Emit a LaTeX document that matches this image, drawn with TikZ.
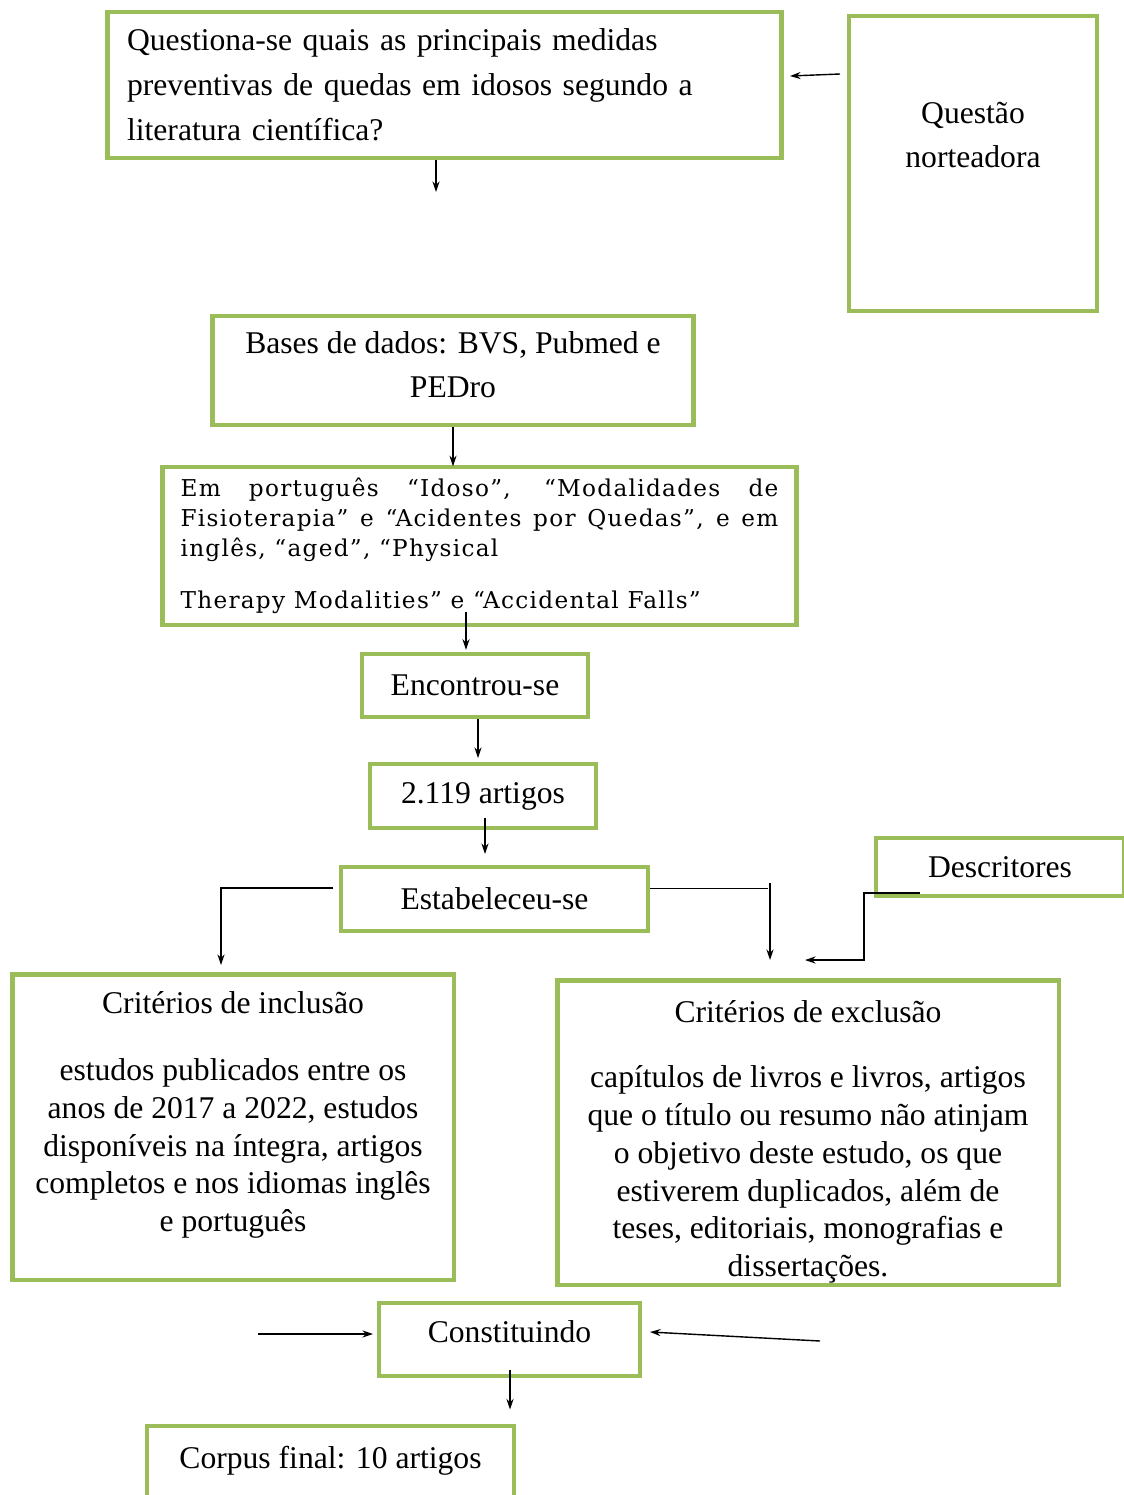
\documentclass[tikz,border=0pt]{standalone}
\usepackage{fontspec}
\setmainfont{Liberation Serif}
\newfontfamily\descfont[LetterSpace=5.5]{DejaVu Serif}
\usetikzlibrary{arrows.meta}
\definecolor{verde}{RGB}{155,189,89}
\tikzset{caixa/.style={draw=verde,line width=2.8pt,inner sep=0pt,font=\fontsize{18}{25.5}\selectfont},
  seta/.style={-{Stealth[length=6pt,width=4pt]},line width=0.8pt}}

\begin{document}
\begin{tikzpicture}[x=0.02cm,y=-0.02cm]
  \useasboundingbox (0,0) rectangle (1123,1495);
  \node[caixa,minimum width=13.5cm,minimum height=2.92cm,text width=12.7cm,align=left] (perg) at (444.5,85)
    {Questiona-se quais as principais medidas\\preventivas de quedas em idosos segundo a\\literatura científica?};
  \node[caixa,minimum width=4.96cm,minimum height=5.9cm,align=center,text depth=1.15cm] (quest) at (973,163.5)
    {Questão\\norteadora};
  \node[caixa,minimum width=9.64cm,minimum height=2.18cm,align=center,text depth=0.24cm] (bases) at (453,370.5)
    {Bases de dados: BVS, Pubmed e\\PEDro};
  \node[caixa,minimum width=12.7cm,minimum height=3.16cm,text width=11.96cm,align=justify,
    font=\descfont\fontsize{13.2}{17}\selectfont] (desc) at (479.5,546)
    {Em português “Idoso”, “Modalidades de\linebreak Fisioterapia” e “Acidentes por Quedas”, e em\linebreak inglês, “aged”, “Physical\par\vspace{0.45cm}Therapy Modalities” e “Accidental Falls”};
  \node[caixa,minimum width=4.52cm,minimum height=1.26cm] (enc) at (475,685.5) {Encontrou-se};
  \node[caixa,minimum width=4.52cm,minimum height=1.28cm] (art) at (483,796) {2.119 artigos};
  \node[caixa,minimum width=6.14cm,minimum height=1.28cm] (estab) at (494.5,899) {Estabeleceu-se};
  \node[caixa,minimum width=4.96cm,minimum height=1.16cm] (descr) at (1000,867) {Descritores};
  \node[caixa,minimum width=8.84cm,minimum height=6.12cm,align=center,text depth=0.61cm,font=\fontsize{18}{21.5}\selectfont] (incl) at (233,1127)
    {Critérios de inclusão\\[0.58cm]estudos publicados entre os\\anos de 2017 a 2022, estudos\\disponíveis na íntegra, artigos\\completos e nos idiomas inglês\\e português};
  \node[caixa,minimum width=10.04cm,minimum height=6.1cm,align=center,font=\fontsize{18}{21.5}\selectfont] (excl) at (808,1132.5)
    {\rule{0pt}{0.81cm}Critérios de exclusão\\[0.56cm]capítulos de livros e livros, artigos\\que o título ou resumo não atinjam\\o objetivo deste estudo, os que\\estiverem duplicados, além de\\teses, editoriais, monografias e\\dissertações.};
  \node[caixa,minimum width=5.22cm,minimum height=1.46cm,text depth=0.3cm] (const) at (509.5,1339.5) {Constituindo};
  \node[caixa,minimum width=7.34cm,minimum height=1.52cm,text depth=0.25cm] (corpus) at (330.5,1464) {Corpus final: 10 artigos};
  \coordinate (p1) at (436,192);
  \coordinate (q1) at (840,74);
  \coordinate (q2) at (790,76);
  \coordinate (d1) at (466,612);
  \coordinate (a1) at (485,818);
  \coordinate (i1) at (221,965);
  \coordinate (x1) at (768,888);
  \coordinate (x2) at (770,883);
  \coordinate (x3) at (770,960);
  \coordinate (r1) at (920,893);
  \coordinate (r2) at (805,960);
  \coordinate (c1) at (258,1334);
  \coordinate (c2) at (820,1341);
  \coordinate (c3) at (650,1332);
  \coordinate (k1) at (510,1370);
  \draw[seta] (perg.south -| p1) -- (p1);
  \draw[seta] (q1) -- (q2);
  \draw[seta] (bases.south) -- ([yshift=-1pt]bases.south |- desc.north);
  \draw[seta] (d1) -- ([yshift=1pt]enc.north -| d1);
  \draw[seta] (enc.south -| 478,0) -- ([yshift=2pt]art.north -| 478,0);
  \draw[seta] (a1) -- ([yshift=6pt]estab.north -| a1);
  \draw[seta] ([xshift=-3pt]estab.west |- 0,888) -| (i1);
  \draw (estab.east |- x1) -- (x1);
  \draw[seta] (x2) -- (x3);
  \draw[seta,line width=1.6pt] (r1) -| (r2 -| 864,0) -- (r2);
  \draw[seta] (c1) -- ([xshift=-2pt]c1 -| const.west);
  \draw[seta] (c2) -- (c3);
  \draw[seta] (k1) -- ([yshift=8pt]corpus.north -| k1);
\end{tikzpicture}
\end{document}
